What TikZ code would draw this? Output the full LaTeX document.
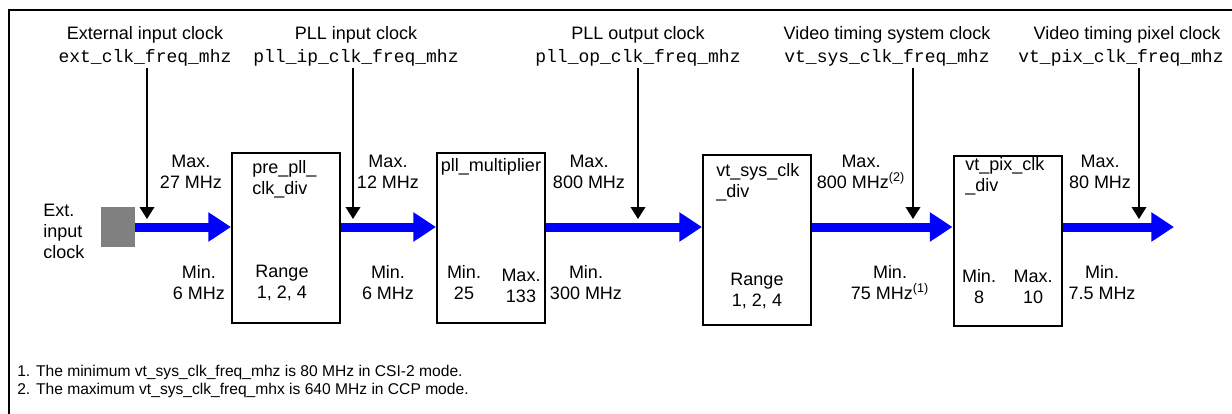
\documentclass[tikz,border=0pt]{standalone}
\usepackage{fontspec}
\setmainfont{Liberation Sans}
\setmonofont{Liberation Mono}
\usetikzlibrary{arrows.meta,positioning}

\tikzset{
  blk/.style={draw, line width=1.5pt, minimum width=81pt, minimum height=127.5pt},
  clk/.style={blue, line width=6.75pt, -{Triangle[width=21pt,length=17pt]}},
  tap/.style={line width=1.2pt, -{Triangle[width=11pt,length=9pt]}},
  lbl/.style={align=center, inner sep=0pt},
  mono/.style={font=\fontsize{13.5pt}{15.75pt}\selectfont\ttfamily, inner sep=1pt},
  note/.style={anchor=west, inner sep=0pt, font=\fontsize{11.7pt}{13.5pt}\selectfont}
}

\begin{document}
\begin{tikzpicture}[x=0.75pt, y=-0.75pt, font=\fontsize{13.5pt}{15.75pt}\selectfont]
  \useasboundingbox (0,0) rectangle (1232,414);
  \draw[line width=1.5pt] (9,414) -- (9,10) -- (1232,10);

  \node[lbl] (extname) at (145,35) {External input clock};
  \node[mono] (ext) at (145,58) {ext\_clk\_freq\_mhz};
  \node[lbl] (ipname) at (356,35) {PLL input clock};
  \node[mono] (ip) at (356,58) {pll\_ip\_clk\_freq\_mhz};
  \node[lbl] (opname) at (638,35) {PLL output clock};
  \node[mono] (op) at (638,58) {pll\_op\_clk\_freq\_mhz};
  \node[lbl] (sysname) at (887,35) {Video timing system clock};
  \node[mono] (sys) at (887,58) {vt\_sys\_clk\_freq\_mhz};
  \node[lbl] (pixname) at (1127,35) {Video timing pixel clock};
  \node[mono] (pix) at (1121,58) {vt\_pix\_clk\_freq\_mhz};

  \node[fill=gray, minimum width=25.5pt, minimum height=30pt, inner sep=0pt] (src) at (118,227) {};
  \node[lbl, align=left, anchor=west] (srcname) at (43,231) {Ext.\\input\\clock};

  \node[blk] (pre) at (286,238) {};
  \node[blk] (mul) at (491,238) {};
  \node[blk] (sysdiv) at (757,239.5) {};
  \node[blk] (pixdiv) at (1007.5,240.5) {};
  \coordinate (out) at (1174,227);

  \node[lbl, align=left, anchor=west] (prename) at (252,179) {pre\_pll\_\\clk\_div};
  \node[lbl] (prerange) at (282,283) {Range\\1, 2, 4};
  \node[lbl] (mulname) at (491,167) {pll\_multiplier};
  \node[lbl] (mulmin) at (464,283) {Min.\\25};
  \node[lbl] (mulmax) at (521,286) {Max.\\133};
  \node[lbl, align=left, anchor=west] (sysdivname) at (716,182) {vt\_sys\_clk\\\_div};
  \node[lbl] (sysrange) at (757,291) {Range\\1, 2, 4};
  \node[lbl, align=left, anchor=west] (pixdivname) at (965,176) {vt\_pix\_clk\\\_div};
  \node[lbl] (pixmin) at (979,287) {Min.\\8};
  \node[lbl] (pixmax) at (1033,287) {Max.\\10};

  \node[lbl] (extmax) at (191,172) {Max.\\27 MHz};
  \node[lbl] (extmin) at (199,283) {Min.\\6 MHz};
  \node[lbl] (ipmax) at (388,172) {Max.\\12 MHz};
  \node[lbl] (ipmin) at (388,283) {Min.\\6 MHz};
  \node[lbl] (opmax) at (589,172) {Max.\\800 MHz};
  \node[lbl] (opmin) at (586,283) {Min.\\300 MHz};
  \node[lbl] (sysmax) at (861,172) {Max.\\800 MHz\textsuperscript{(2)}};
  \node[lbl] (sysmin) at (890,283) {Min.\\75 MHz\textsuperscript{(1)}};
  \node[lbl] (outmax) at (1100,172) {Max.\\80 MHz};
  \node[lbl] (outmin) at (1102,283) {Min.\\7.5 MHz};

  \draw[clk] (src.east) -- (src.east -| pre.west);
  \draw[clk] (src.east -| pre.east) -- (src.east -| mul.west);
  \draw[clk] (src.east -| mul.east) -- (src.east -| sysdiv.west);
  \draw[clk] (src.east -| sysdiv.east) -- (src.east -| pixdiv.west);
  \draw[clk] (src.east -| pixdiv.east) -- (out);

  \coordinate (t1) at (147,219);
  \coordinate (t2) at (353,219);
  \coordinate (t3) at (638,219);
  \coordinate (t4) at (913,219);
  \coordinate (t5) at (1139,219);
  \draw[tap] (ext.south -| t1) -- (t1);
  \draw[tap] (ip.south -| t2) -- (t2);
  \draw[tap] (op.south -| t3) -- (t3);
  \draw[tap] (sys.south -| t4) -- (t4);
  \draw[tap] (pix.south -| t5) -- (t5);

  \node[note] (note1) at (17,372) {1. The minimum vt\_sys\_clk\_freq\_mhz is 80 MHz in CSI-2 mode.};
  \node[note] (note2) at (17,390) {2. The maximum vt\_sys\_clk\_freq\_mhx is 640 MHz in CCP mode.};
\end{tikzpicture}
\end{document}
